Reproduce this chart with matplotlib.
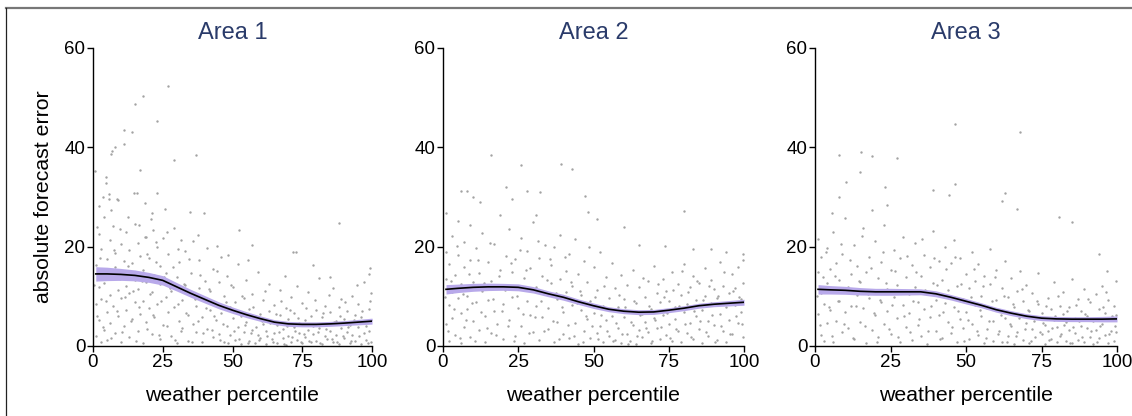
import matplotlib
matplotlib.use("Agg")
import matplotlib.pyplot as plt
from matplotlib.lines import Line2D

plt.rcParams['font.family'] = ['Liberation Sans', 'DejaVu Sans']

titles = ["Area 1", "Area 2", "Area 3"]
x_label = "weather percentile"
y_label = "absolute forecast error"
x_ticks = [0, 25, 50, 75, 100]
y_ticks = [0, 20, 40, 60]

curve_x = [1, 5, 10, 15, 20, 25, 30, 35, 40, 45, 50, 55, 60, 65, 70, 75, 80, 85, 90, 95, 100]

area1_mean = [14.5, 14.5, 14.4, 14.2, 13.8, 13.2, 11.9, 10.6, 9.4, 8.2, 7.2, 6.3, 5.5, 4.8, 4.45, 4.35, 4.35, 4.45, 4.6, 4.8, 5.0]
area1_ci = [1.45, 1.35, 1.2, 1.1, 1.0, 0.95, 0.85, 0.8, 0.75, 0.7, 0.65, 0.6, 0.55, 0.5, 0.5, 0.5, 0.5, 0.5, 0.5, 0.55, 0.6]

area2_mean = [11.4, 11.6, 11.8, 11.9, 11.9, 11.8, 11.3, 10.5, 9.8, 8.9, 8.1, 7.4, 7.0, 6.8, 6.85, 7.2, 7.6, 8.1, 8.4, 8.6, 8.8]
area2_ci = [0.95, 0.85, 0.8, 0.75, 0.7, 0.7, 0.65, 0.6, 0.6, 0.55, 0.55, 0.5, 0.5, 0.5, 0.5, 0.5, 0.5, 0.5, 0.5, 0.55, 0.6]

area3_mean = [11.4, 11.3, 11.2, 11.0, 10.9, 10.9, 10.9, 10.9, 10.5, 9.8, 9.0, 8.2, 7.3, 6.6, 6.0, 5.6, 5.45, 5.4, 5.4, 5.4, 5.45]
area3_ci = [0.95, 0.85, 0.8, 0.75, 0.7, 0.7, 0.65, 0.6, 0.6, 0.55, 0.55, 0.5, 0.5, 0.5, 0.5, 0.5, 0.5, 0.5, 0.5, 0.55, 0.6]

area1_points = [
    (26.9, 52.3), (17.9, 50.3), (14.9, 48.6), (22.9, 45.3), (11, 43.4), (14, 43), (8, 40.1), (6.8, 39.3),
    (6.6, 38.6), (11, 40.6), (36.8, 38.5), (28.9, 37.4), (0.8, 35.3), (17, 35.4), (4.8, 33.9), (4.8, 32.8),
    (5.7, 30.5), (5.7, 29.6), (14.7, 30.8), (15.8, 30.8), (22.9, 30.7), (18.8, 28.7), (2, 28.2), (8.7, 29.5),
    (25.8, 27.5), (34.9, 26.9), (39.8, 26.7), (88, 24.7), (52.3, 23.3), (20.9, 25.5), (21.6, 23.3), (31.4, 21.3),
    (57, 20.3), (71.7, 19), (72.9, 19), (78.9, 16.3), (99.4, 15.6), (68.9, 14.1), (84.8, 13.9), (98.8, 14.4),
    (1, 2.1), (1, 8.5), (1, 16.3), (2, 5.2), (2, 11.8), (2, 22.5), (3, 0.8), (3, 9.4), (3, 14.1), (3, 19.6),
    (4, 3.3), (4, 12.7), (4, 26.0), (5, 6.8), (5, 17.5), (5, 1.2), (6, 10.3), (6, 21.4), (6, 4.6), (7, 8.0),
    (7, 13.6), (7, 24.1), (8, 2.7), (8, 15.9), (8, 18.8), (9, 6.1), (9, 11.2), (9, 29.3), (10, 0.9), (10, 9.7),
    (10, 20.5), (11, 4.0), (11, 14.8), (11, 17.1), (12, 7.3), (12, 22.9), (12, 12.0), (13, 1.8), (13, 10.6),
    (13, 19.4), (14, 5.5), (14, 16.7), (15, 8.9), (15, 13.3), (15, 24.6), (16, 3.1), (16, 11.5), (16, 20.8),
    (17, 6.5), (17, 18.2), (18, 0.6), (18, 9.1), (18, 15.2), (19, 12.9), (19, 22.0), (19, 4.8), (20, 7.7),
    (20, 17.6), (21, 2.4), (21, 10.9), (21, 26.8), (22, 14.3), (22, 5.9), (23, 19.9), (23, 8.4), (24, 1.5),
    (24, 12.4), (24, 16.1), (25, 4.3), (25, 21.7), (26, 9.8), (26, 14.7), (27, 6.9), (27, 18.5), (28, 2.0),
    (28, 11.1), (29, 7.8), (29, 23.8), (30, 0.7), (30, 13.9), (31, 5.0), (31, 16.9), (32, 9.3), (32, 3.6),
    (33, 12.2), (33, 19.1), (34, 6.3), (34, 1.1), (35, 10.2), (35, 14.6), (36, 4.5), (36, 21.2), (37, 8.1),
    (37, 2.9), (38, 11.7), (38, 17.3), (39, 5.8), (39, 0.9), (40, 9.0), (40, 13.1), (41, 3.4), (41, 19.8),
    (42, 7.2), (42, 11.0), (43, 1.9), (43, 15.4), (44, 5.3), (44, 8.7), (45, 12.8), (45, 2.5), (46, 6.6),
    (46, 17.9), (47, 0.8), (47, 10.0), (48, 4.1), (48, 14.0), (49, 7.9), (49, 2.2), (50, 5.6), (50, 11.9),
    (51, 1.3), (51, 8.8), (52, 3.8), (52, 16.4), (53, 6.0), (53, 0.5), (54, 9.6), (54, 2.8), (55, 4.9),
    (55, 13.2), (56, 1.0), (56, 7.4), (57, 3.2), (57, 10.4), (58, 0.6), (58, 5.7), (59, 2.3), (59, 14.9),
    (60, 6.4), (60, 1.6), (61, 4.4), (61, 9.2), (62, 0.4), (62, 3.0), (63, 7.1), (63, 12.5), (64, 1.4),
    (64, 5.1), (65, 2.6), (65, 8.3), (66, 0.7), (66, 4.2), (67, 6.2), (67, 11.3), (68, 1.7), (68, 3.5),
    (69, 0.3), (69, 7.6), (70, 5.4), (70, 2.1), (71, 9.9), (71, 0.9), (72, 3.9), (72, 6.7), (73, 1.2),
    (73, 12.1), (74, 4.7), (74, 2.7), (75, 0.6), (75, 8.6), (76, 5.2), (76, 1.9), (77, 3.3), (77, 10.8),
    (78, 0.8), (78, 6.1), (79, 2.4), (79, 4.0), (80, 7.3), (80, 1.1), (81, 3.7), (81, 13.6), (82, 0.5),
    (82, 5.8), (83, 2.0), (83, 8.1), (84, 4.6), (84, 1.4), (85, 6.9), (85, 3.1), (86, 0.9), (86, 11.6),
    (87, 5.0), (87, 2.3), (88, 7.8), (88, 0.4), (89, 3.6), (89, 9.5), (90, 1.6), (90, 5.5), (91, 2.9),
    (91, 7.0), (92, 0.7), (92, 4.3), (93, 10.1), (93, 2.2), (94, 6.3), (94, 1.0), (95, 3.8), (95, 8.4),
    (96, 0.5), (96, 5.9), (97, 2.6), (97, 12.9), (98, 4.1), (98, 1.3), (99, 7.5), (99, 3.0), (99.6, 0.8),
    (99.6, 10.7), (99.6, 5.3),
    (0.5, 12.3), (1.5, 6.0), (2.5, 17.8), (3.5, 3.9), (4.5, 9.1), (5.5, 14.2), (6.5, 1.7), (7.5, 19.3),
    (8.5, 7.0), (9.5, 13.5), (10.5, 2.9), (11.5, 9.9), (12.5, 16.0), (13.5, 5.0), (14.5, 11.1), (15.5, 1.0),
    (16.5, 7.9), (17.5, 13.0), (18.5, 21.9), (19.5, 3.5), (20.5, 10.4), (21.5, 6.2), (22.5, 16.9), (23.5, 2.2),
    (24.5, 9.0), (25.5, 13.8), (26.5, 4.0), (27.5, 11.6), (28.5, 15.9), (29.5, 1.3), (30.5, 8.4), (31.5, 3.0),
    (32.5, 12.5), (33.5, 6.6), (34.5, 17.5), (35.5, 0.8), (36.5, 9.5), (37.5, 5.0), (38.5, 14.2), (39.5, 2.7),
    (40.5, 7.6), (41.5, 11.4), (42.5, 3.3), (43.5, 6.1), (44.5, 15.0), (45.5, 1.2), (46.5, 4.4), (47.5, 8.9),
    (48.5, 0.6), (49.5, 12.3), (50.5, 3.1), (51.5, 6.7), (52.5, 1.5), (53.5, 10.0), (54.5, 4.2), (55.5, 0.7),
    (56.5, 2.6), (57.5, 7.9), (58.5, 3.9), (59.5, 1.2), (60.5, 5.0), (61.5, 11.0), (62.5, 2.0), (63.5, 4.7),
    (64.5, 0.9), (65.5, 6.5), (66.5, 2.9), (67.5, 9.0), (68.5, 0.5), (69.5, 4.1), (70.5, 7.2), (71.5, 1.8),
    (72.5, 3.0), (73.5, 5.6), (74.5, 0.8), (75.5, 2.5), (76.5, 7.6), (77.5, 1.1), (78.5, 4.3), (79.5, 9.3),
    (80.5, 2.8), (81.5, 0.6), (82.5, 6.6), (83.5, 3.4), (84.5, 10.3), (85.5, 1.5), (86.5, 4.9), (87.5, 0.9),
    (88.5, 6.0), (89.5, 2.1), (90.5, 8.9), (91.5, 3.9), (92.5, 1.0), (93.5, 5.3), (94.5, 12.2), (95.5, 2.0),
    (96.5, 7.1), (97.5, 4.7), (98.5, 0.6), (99.3, 9.0),
    (1.5, 24.0), (3.5, 29.9), (6.5, 27.3), (9.5, 23.6), (12.5, 26.0), (16.5, 24.3), (19.5, 18.6), (22.5, 21.0),
    (26.5, 23.0), (30.5, 19.5), (37.5, 22.4), (44.5, 20.1), (48.5, 18.4), (55.5, 17.2),
]

area2_points = [
    (16.1, 38.5), (39.1, 36.6), (26, 36.4), (43, 35.7), (21, 31.9), (23, 29.5), (6.1, 31.2), (8, 31.2),
    (10, 29.9), (27.9, 31.2), (32.1, 30.9), (47.1, 30.2), (0.9, 26.7), (48.2, 27), (80, 27.1), (51.3, 25.5),
    (60.1, 23.9), (12.2, 29), (31, 26.3), (65, 20.4), (73.9, 20.2), (83, 19.5), (89, 19.6), (94, 19),
    (99.6, 18.5),
    (1, 4.5), (1, 13.5), (1, 19.0), (2, 8.2), (2, 16.4), (2, 1.0), (3, 10.9), (3, 22.1), (3, 5.6), (4, 14.2),
    (4, 2.3), (5, 9.6), (5, 18.3), (5, 25.2), (6, 6.7), (6, 12.4), (6, 0.7), (7, 15.8), (7, 3.9), (7, 21.0),
    (8, 10.1), (8, 7.4), (9, 17.2), (9, 1.8), (9, 24.4), (10, 12.9), (10, 5.0), (11, 8.8), (11, 19.7),
    (12, 3.2), (12, 14.6), (13, 11.0), (13, 22.8), (14, 6.1), (14, 0.9), (15, 16.9), (15, 9.3), (16, 2.7),
    (16, 13.1), (17, 20.6), (17, 7.0), (18, 11.7), (18, 4.4), (19, 15.3), (19, 26.3), (20, 8.5), (20, 1.4),
    (21, 18.1), (21, 12.2), (22, 5.3), (22, 23.5), (23, 9.9), (23, 14.9), (24, 2.0), (24, 17.4), (25, 7.7),
    (25, 11.4), (26, 21.8), (26, 4.1), (27, 13.7), (27, 0.6), (28, 9.0), (28, 19.2), (29, 6.3), (29, 15.6),
    (30, 2.9), (30, 24.9), (31, 11.9), (31, 8.1), (32, 17.7), (32, 1.2), (33, 5.8), (33, 14.0), (34, 20.3),
    (34, 10.5), (35, 3.5), (35, 7.6), (36, 16.2), (36, 12.6), (37, 0.8), (37, 19.9), (38, 9.4), (38, 4.9),
    (39, 13.4), (39, 22.3), (40, 6.9), (40, 2.4), (41, 15.1), (41, 10.8), (42, 1.6), (42, 18.6), (43, 8.3),
    (43, 12.0), (44, 4.6), (44, 21.5), (45, 14.5), (45, 0.5), (46, 7.2), (46, 10.3), (47, 17.0), (47, 3.0),
    (48, 12.8), (48, 5.4), (49, 9.1), (49, 1.7), (50, 15.9), (50, 6.6), (51, 2.6), (51, 11.2), (52, 4.0),
    (52, 18.9), (53, 8.0), (53, 0.9), (54, 13.8), (54, 5.2), (55, 2.1), (55, 9.7), (56, 16.6), (56, 6.0),
    (57, 1.3), (57, 11.6), (58, 3.7), (58, 7.9), (59, 14.3), (59, 0.6), (60, 5.9), (60, 9.5), (61, 2.5),
    (61, 12.3), (62, 7.1), (62, 1.1), (63, 4.3), (63, 15.2), (64, 8.6), (64, 0.4), (65, 3.3), (65, 11.8),
    (66, 6.4), (66, 1.9), (67, 9.8), (67, 4.8), (68, 13.0), (68, 2.8), (69, 7.5), (69, 0.7), (70, 5.7),
    (70, 16.1), (71, 10.6), (71, 3.6), (72, 1.5), (72, 8.9), (73, 6.2), (73, 13.5), (74, 2.2), (74, 11.1),
    (75, 4.5), (75, 9.0), (76, 14.8), (76, 1.0), (77, 7.8), (77, 5.5), (78, 12.4), (78, 3.1), (79, 0.8),
    (79, 10.2), (80, 6.8), (80, 16.5), (81, 2.7), (81, 8.4), (82, 11.9), (82, 4.7), (83, 1.4), (83, 14.1),
    (84, 9.3), (84, 6.0), (85, 3.4), (85, 12.7), (86, 7.3), (86, 0.6), (87, 15.6), (87, 10.0), (88, 5.1),
    (88, 2.0), (89, 8.7), (89, 13.2), (90, 4.2), (90, 11.4), (91, 1.2), (91, 9.6), (92, 16.8), (92, 6.5),
    (93, 3.0), (93, 12.1), (94, 7.9), (94, 0.9), (95, 10.7), (95, 5.3), (96, 14.4), (96, 2.4), (97, 8.2),
    (97, 11.7), (98, 4.6), (98, 15.9), (99, 9.4), (99, 6.9), (99.6, 1.8), (99.6, 12.6), (99.6, 17.3),
    (0.5, 9.8), (1.5, 3.0), (2.5, 13.0), (3.5, 7.5), (4.5, 20.1), (5.5, 1.6), (6.5, 10.5), (7.5, 5.3),
    (8.5, 14.5), (9.5, 8.6), (10.5, 1.1), (11.5, 17.3), (12.5, 6.8), (13.5, 12.6), (14.5, 3.7), (15.5, 20.8),
    (16.5, 9.5), (17.5, 2.2), (18.5, 14.0), (19.5, 7.1), (20.5, 11.2), (21.5, 4.0), (22.5, 16.7), (23.5, 1.0),
    (24.5, 10.0), (25.5, 19.3), (26.5, 6.5), (27.5, 15.3), (28.5, 2.6), (29.5, 11.0), (30.5, 5.9), (31.5, 21.2),
    (32.5, 9.0), (33.5, 3.1), (34.5, 13.2), (35.5, 17.5), (36.5, 5.0), (37.5, 10.7), (38.5, 1.5), (39.5, 7.8),
    (40.5, 18.0), (41.5, 4.3), (42.5, 12.8), (43.5, 2.0), (44.5, 8.6), (45.5, 11.1), (46.5, 0.9), (47.5, 6.1),
    (48.5, 20.0), (49.5, 4.0), (50.5, 9.8), (51.5, 1.5), (52.5, 6.3), (53.5, 12.0), (54.5, 3.0), (55.5, 7.4),
    (56.5, 1.0), (57.5, 4.6), (58.5, 10.3), (59.5, 2.5), (60.5, 7.8), (61.5, 0.5), (62.5, 4.9), (63.5, 9.0),
    (64.5, 2.0), (65.5, 6.2), (66.5, 13.7), (67.5, 3.6), (68.5, 8.1), (69.5, 1.0), (70.5, 5.3), (71.5, 12.5),
    (72.5, 3.8), (73.5, 9.9), (74.5, 6.6), (75.5, 1.6), (76.5, 11.3), (77.5, 3.4), (78.5, 8.0), (79.5, 15.0),
    (80.5, 4.4), (81.5, 10.8), (82.5, 1.8), (83.5, 7.0), (84.5, 13.0), (85.5, 5.0), (86.5, 9.2), (87.5, 2.8),
    (88.5, 12.0), (89.5, 6.3), (90.5, 0.9), (91.5, 10.1), (92.5, 4.0), (93.5, 14.9), (94.5, 8.4), (95.5, 2.5),
    (96.5, 11.0), (97.5, 6.0), (98.5, 9.8), (99.3, 4.5),
]

area3_points = [
    (46.2, 44.6), (68, 43), (8.1, 38.4), (15.1, 39.1), (19, 38.2), (27.1, 37.9), (14.9, 34.9), (46.2, 32.6),
    (10.2, 33), (23.2, 31.9), (39.2, 31.4), (44.4, 30.4), (63, 30.8), (61.9, 29.2), (66.9, 27.5), (80.9, 26),
    (85.1, 25), (8.1, 30), (23.8, 28.4), (94, 18.6), (96.7, 15), (5.5, 26.7), (18.8, 27.3),
    (1, 6.5), (1, 14.8), (1, 21.6), (2, 2.3), (2, 10.7), (2, 17.9), (3, 8.4), (3, 1.1), (4, 12.6), (4, 19.8),
    (4, 4.7), (5, 15.5), (5, 7.3), (6, 0.9), (6, 11.4), (6, 22.9), (7, 5.1), (7, 16.7), (8, 9.0), (8, 13.2),
    (9, 2.8), (9, 18.6), (10, 6.9), (10, 25.8), (11, 11.8), (11, 3.6), (12, 14.4), (12, 8.1), (13, 20.4),
    (13, 1.5), (14, 10.2), (14, 16.0), (15, 4.9), (15, 12.9), (16, 7.7), (16, 23.7), (17, 0.7), (17, 14.9),
    (18, 9.6), (18, 18.0), (19, 3.3), (19, 11.1), (20, 6.2), (20, 21.1), (21, 13.6), (21, 1.9), (22, 8.8),
    (22, 16.9), (23, 4.4), (23, 24.3), (24, 11.5), (24, 7.0), (25, 2.5), (25, 15.2), (26, 19.3), (26, 9.8),
    (27, 5.6), (27, 12.2), (28, 0.8), (28, 17.6), (29, 8.3), (29, 22.0), (30, 3.9), (30, 13.9), (31, 10.4),
    (31, 6.6), (32, 16.3), (32, 1.3), (33, 11.9), (33, 20.7), (34, 4.2), (34, 8.9), (35, 14.1), (35, 2.1),
    (36, 18.4), (36, 7.5), (37, 10.9), (37, 0.5), (38, 5.8), (38, 15.8), (39, 12.7), (39, 23.1), (40, 3.0),
    (40, 9.2), (41, 17.1), (41, 6.3), (42, 1.7), (42, 13.3), (43, 20.0), (43, 8.6), (44, 4.8), (44, 11.3),
    (45, 16.6), (45, 2.6), (46, 7.9), (46, 21.4), (47, 12.0), (47, 0.9), (48, 5.4), (48, 17.8), (49, 9.5),
    (49, 3.7), (50, 14.5), (50, 6.8), (51, 1.4), (51, 11.7), (52, 18.9), (52, 4.5), (53, 8.2), (53, 13.0),
    (54, 2.2), (54, 16.4), (55, 6.0), (55, 10.1), (56, 0.6), (56, 14.0), (57, 7.6), (57, 3.4), (58, 12.5),
    (58, 19.5), (59, 5.0), (59, 1.0), (60, 9.3), (60, 15.3), (61, 3.1), (61, 7.2), (62, 11.6), (62, 0.8),
    (63, 5.7), (63, 17.0), (64, 2.0), (64, 9.9), (65, 13.7), (65, 4.1), (66, 0.5), (66, 7.8), (67, 11.0),
    (67, 2.9), (68, 6.1), (68, 15.0), (69, 1.2), (69, 9.1), (70, 4.6), (70, 12.3), (71, 0.7), (71, 7.0),
    (72, 3.5), (72, 10.6), (73, 5.9), (73, 1.8), (74, 8.5), (74, 14.6), (75, 2.4), (75, 6.7), (76, 0.4),
    (76, 4.3), (77, 9.7), (77, 3.0), (78, 1.5), (78, 7.4), (79, 5.2), (79, 12.8), (80, 0.9), (80, 3.8),
    (81, 8.0), (81, 2.1), (82, 6.4), (82, 10.9), (83, 1.0), (83, 4.9), (84, 3.2), (84, 7.9), (85, 0.6),
    (85, 13.4), (86, 5.6), (86, 2.7), (87, 9.4), (87, 1.3), (88, 4.0), (88, 7.1), (89, 0.8), (89, 11.5),
    (90, 3.6), (90, 6.0), (91, 1.9), (91, 8.8), (92, 5.0), (92, 0.5), (93, 10.4), (93, 3.3), (94, 7.5),
    (94, 1.6), (95, 4.4), (95, 12.1), (96, 2.3), (96, 6.6), (97, 0.7), (97, 9.2), (98, 5.3), (98, 3.0),
    (99, 8.1), (99, 1.1), (99.6, 6.2), (99.6, 13.0), (99.6, 2.8),
    (0.5, 10.0), (1.5, 4.2), (2.5, 13.8), (3.5, 19.0), (4.5, 7.9), (5.5, 2.0), (6.5, 14.0), (7.5, 9.0),
    (8.5, 20.5), (9.5, 4.5), (10.5, 11.6), (11.5, 17.3), (12.5, 1.6), (13.5, 8.0), (14.5, 13.0), (15.5, 22.2),
    (16.5, 4.0), (17.5, 10.4), (18.5, 15.6), (19.5, 6.7), (20.5, 0.9), (21.5, 9.3), (22.5, 19.0), (23.5, 12.6),
    (24.5, 3.4), (25.5, 8.2), (26.5, 15.0), (27.5, 1.9), (28.5, 11.0), (29.5, 6.0), (30.5, 18.1), (31.5, 2.8),
    (32.5, 9.0), (33.5, 14.8), (34.5, 5.5), (35.5, 21.5), (36.5, 11.3), (37.5, 3.0), (38.5, 8.0), (39.5, 17.6),
    (40.5, 12.3), (41.5, 1.4), (42.5, 6.8), (43.5, 15.5), (44.5, 9.6), (45.5, 3.9), (46.5, 18.0), (47.5, 7.0),
    (48.5, 12.5), (49.5, 1.0), (50.5, 5.3), (51.5, 9.8), (52.5, 15.5), (53.5, 3.0), (54.5, 7.2), (55.5, 12.0),
    (56.5, 1.6), (57.5, 5.0), (58.5, 9.0), (59.5, 13.8), (60.5, 2.5), (61.5, 6.3), (62.5, 10.0), (63.5, 0.8),
    (64.5, 4.4), (65.5, 8.5), (66.5, 2.0), (67.5, 5.6), (68.5, 11.5), (69.5, 3.4), (70.5, 7.3), (71.5, 1.0),
    (72.5, 5.0), (73.5, 9.0), (74.5, 2.8), (75.5, 4.6), (76.5, 8.0), (77.5, 1.2), (78.5, 3.6), (79.5, 6.0),
    (80.5, 10.0), (81.5, 2.5), (82.5, 4.2), (83.5, 7.0), (84.5, 0.7), (85.5, 3.8), (86.5, 8.3), (87.5, 5.0),
    (88.5, 1.8), (89.5, 6.5), (90.5, 9.4), (91.5, 3.0), (92.5, 5.5), (93.5, 0.8), (94.5, 4.0), (95.5, 7.8),
    (96.5, 10.9), (97.5, 2.5), (98.5, 6.0), (99.3, 4.1),
]

points_all = [area1_points, area2_points, area3_points]
means_all = [area1_mean, area2_mean, area3_mean]
cis_all = [area1_ci, area2_ci, area3_ci]

W, H = 1132, 416
fig = plt.figure(figsize=(W / 100, H / 100), dpi=100)

# outer frame (top and left edges visible in the reference crop)
fig.add_artist(Line2D([6 / W, 1.0], [1 - 8 / H, 1 - 8 / H], color='#777777', lw=1.6,
                      transform=fig.transFigure))
fig.add_artist(Line2D([6 / W, 6 / W], [0.0, 1 - 8 / H], color='#222222', lw=0.9,
                      transform=fig.transFigure))

panel_px = [(93, 372), (443, 744), (815, 1117)]
top_px, bot_px = 47.7, 346

for i, (l, r) in enumerate(panel_px):
    ax = fig.add_axes([l / W, (H - bot_px) / H, (r - l) / W, (bot_px - top_px) / H])
    pts = points_all[i]
    xs = [p[0] for p in pts]
    ys = [p[1] for p in pts]
    ax.scatter(xs, ys, s=3.0, c='#a3a3a3', linewidths=0, zorder=1)
    m = means_all[i]
    c = cis_all[i]
    lo = [a - b for a, b in zip(m, c)]
    hi = [a + b for a, b in zip(m, c)]
    ax.fill_between(curve_x, lo, hi, color='#b8a9ea', lw=0, zorder=2)
    ax.plot(curve_x, m, color='black', lw=1.2, zorder=3)
    ax.set_xlim(0, 100)
    ax.set_ylim(0, 60)
    ax.set_xticks(x_ticks)
    ax.set_yticks(y_ticks)
    for s in ['top', 'right']:
        ax.spines[s].set_visible(False)
    for s in ['left', 'bottom']:
        ax.spines[s].set_linewidth(1.0)
        ax.spines[s].set_color('black')
    ax.tick_params(axis='both', direction='out', length=4, width=1, labelsize=13.5,
                   pad=1.5, colors='black')
    ax.set_title(titles[i], fontsize=17, color='#2a3b6a', pad=6)
    ax.set_xlabel(x_label, fontsize=15.3, labelpad=11)
    if i == 0:
        ax.set_ylabel(y_label, fontsize=15.3, labelpad=8)
    ax.set_facecolor('none')

fig.savefig("out.png", dpi=100, facecolor='white')
